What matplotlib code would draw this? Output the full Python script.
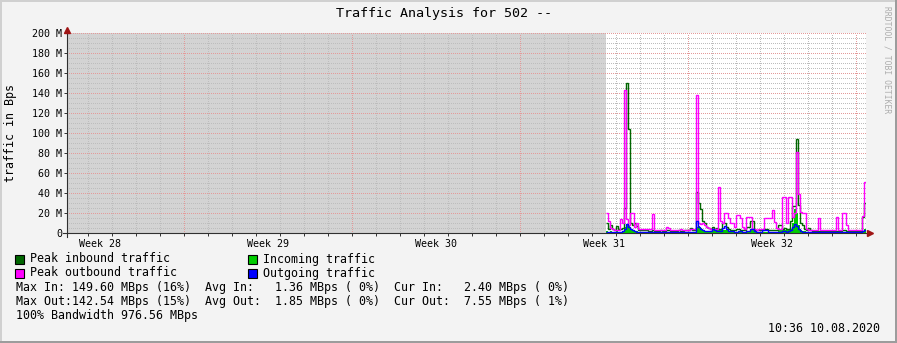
import matplotlib
matplotlib.use("Agg")
import matplotlib.pyplot as plt
from matplotlib.patches import Rectangle
import numpy as np

# --- Canvas -------------------------------------------------------------
W, H, DPI = 897, 343, 100
FONT = "DejaVu Sans Mono"

# x axis is in hours from the left edge of the graph; 1 px ~ 1 hour
X_END = 799
DATA_START = 539          # first sample; everything before is "unknown"
STEP = 2                  # hours per consolidated sample
FIRST_DAY_LINE = 21
FIRST_WEEK_LINE = 117

# --- Data (MBps, one value per 2 h sample) -------------------------------
peak_in = [
    10, 4, 8, 4, 3, 7, 4, 4, 5, 25,
    150, 104, 10, 8, 10, 7, 3, 3, 3, 3,
    3, 2, 2, 3, 2, 2, 2, 3, 2, 2,
    3, 3, 2, 2, 2, 2, 3, 2, 2, 3,
    3, 3, 5, 3, 3, 41, 30, 24, 12, 10,
    6, 5, 4, 6, 4, 5, 4, 4, 10, 10,
    6, 4, 3, 3, 3, 4, 4, 3, 3, 3,
    6, 6, 12, 12, 3, 3, 3, 3, 3, 4,
    4, 3, 3, 3, 3, 3, 8, 8, 4, 5,
    4, 4, 12, 27, 27, 94, 28, 10, 8, 4,
    3, 5, 3, 2, 2, 2, 2, 2, 2, 2,
    2, 2, 2, 2, 2, 2, 2, 2, 3, 3,
    2, 2, 2, 2, 2, 2, 2, 2, 16, 30,
]
incoming = [
    2, 1, 2, 1, 1, 2, 1, 1, 2, 6,
    9, 8, 4, 3, 2, 2, 1, 1, 1, 1,
    1, 1, 1, 1, 1, 1, 1, 1, 1, 1,
    1, 1, 1, 1, 1, 1, 1, 1, 1, 1,
    1, 1, 1, 1, 1, 6, 7, 5, 3, 2,
    2, 2, 2, 3, 3, 3, 3, 3, 3, 3,
    3, 2, 2, 2, 1, 1, 1, 1, 1, 1,
    2, 2, 3, 3, 2, 1, 1, 1, 1, 1,
    1, 1, 1, 1, 1, 1, 3, 3, 3, 3,
    3, 3, 4, 10, 24, 20, 8, 3, 2, 2,
    1, 1, 1, 1, 1, 1, 1, 1, 1, 1,
    1, 1, 1, 1, 1, 1, 1, 1, 1, 1,
    1, 1, 1, 1, 1, 1, 1, 1, 2, 4,
]
peak_out = [
    20, 12, 5, 4, 3, 3, 3, 14, 10, 143,
    14, 8, 20, 20, 6, 10, 4, 4, 4, 4,
    4, 4, 4, 19, 3, 3, 3, 3, 3, 3,
    6, 5, 3, 3, 3, 3, 3, 4, 3, 3,
    3, 3, 4, 4, 4, 138, 10, 9, 10, 8,
    6, 5, 4, 4, 4, 4, 46, 12, 10, 20,
    20, 15, 10, 10, 6, 18, 18, 15, 6, 4,
    16, 16, 16, 4, 4, 3, 4, 4, 4, 15,
    15, 15, 15, 23, 11, 5, 4, 4, 36, 36,
    10, 36, 36, 16, 20, 81, 39, 21, 20, 20,
    4, 3, 3, 3, 3, 3, 15, 3, 3, 3,
    3, 3, 3, 3, 3, 16, 3, 3, 20, 20,
    8, 3, 3, 3, 3, 3, 3, 3, 17, 51,
]
outgoing = [
    1, 1, 1, 1, 1, 1, 1, 1, 2, 4,
    9, 6, 4, 3, 2, 1, 1, 1, 1, 1,
    1, 1, 1, 1, 1, 1, 1, 1, 1, 1,
    1, 1, 1, 1, 1, 1, 1, 1, 1, 1,
    1, 1, 1, 1, 1, 12, 6, 4, 3, 2,
    2, 2, 2, 4, 3, 2, 2, 2, 5, 7,
    4, 2, 2, 2, 1, 1, 2, 2, 1, 1,
    2, 2, 4, 4, 2, 1, 1, 1, 3, 3,
    3, 1, 1, 1, 1, 1, 1, 1, 2, 2,
    1, 2, 3, 6, 9, 7, 4, 2, 1, 1,
    1, 1, 1, 1, 1, 1, 1, 1, 1, 1,
    1, 1, 1, 1, 1, 1, 1, 1, 1, 1,
    1, 1, 1, 1, 1, 1, 1, 1, 2, 3,
]

y_ticks = [0, 20, 40, 60, 80, 100, 120, 140, 160, 180, 200]
y_tick_labels = ["0"] + [f"{v} M" for v in y_ticks[1:]]
week_labels = ["Week 28", "Week 29", "Week 30", "Week 31", "Week 32"]

legend_items = [
    ("Peak inbound traffic", "#006600"),
    ("Incoming traffic", "#00CC00"),
    ("Peak outbound traffic", "#FF00FF"),
    ("Outgoing traffic", "#0000FF"),
]
stats_lines = [
    "Max In: 149.60 MBps (16%)  Avg In:   1.36 MBps ( 0%)  Cur In:   2.40 MBps ( 0%)",
    "Max Out:142.54 MBps (15%)  Avg Out:  1.85 MBps ( 0%)  Cur Out:  7.55 MBps ( 1%)",
    "100% Bandwidth 976.56 MBps",
]
title = "Traffic Analysis for 502 --"
timestamp = "10:36 10.08.2020"
watermark = "RRDTOOL / TOBI OETIKER"


def fx(px):
    return px / W


def fy(py):
    return 1 - py / H


fig = plt.figure(figsize=(W / DPI, H / DPI), dpi=DPI, facecolor="#F3F3F3")

# 3D-ish frame around the image
for x0, y0, w, h, c in [
    (0, 0, W, 2, "#D0D0D0"), (0, 0, 2, H, "#D0D0D0"),
    (0, H - 2, W, 2, "#9C9C9C"), (W - 2, 0, 2, H, "#9C9C9C"),
]:
    fig.patches.append(Rectangle((fx(x0), fy(y0 + h)), w / W, h / H,
                                 transform=fig.transFigure, color=c, lw=0))

ax = fig.add_axes([fx(67), fy(233), 799 / W, 200 / H])
ax.set_facecolor("white")
ax.set_xlim(0, X_END)
ax.set_ylim(0, 200)
for s in ax.spines.values():
    s.set_visible(False)

# unknown (no data) region
ax.axvspan(0, DATA_START, color="#D3D3D3", lw=0, zorder=0)

# grid: 1px dots, no antialiasing so they stay crisp
grid_kw = dict(lw=0.72, ls=(0, (1, 2)), antialiased=False)
for d in range(FIRST_DAY_LINE, X_END, 24):
    ax.axvline(d, color="#BDBDBD", zorder=1, **grid_kw)
for v in range(5, 201, 5):
    if v % 20:
        ax.axhline(v, color="#BDBDBD", zorder=1, **grid_kw)
for w in range(FIRST_WEEK_LINE, X_END, 168):
    ax.axvline(w, color="#E49A9A", zorder=1.1, **grid_kw)
for v in y_ticks[1:]:
    ax.axhline(v, color="#E49A9A", zorder=1.1, **grid_kw)

# series
edges = np.arange(len(peak_in) + 1) * STEP + DATA_START
ax.stairs(incoming, edges, fill=True, color="#00CC00", lw=0, zorder=2)
ax.stairs(peak_in, edges, baseline=None, color="#006600", lw=1.0, zorder=3)
ax.stairs(peak_out, edges, baseline=None, color="#FF00FF", lw=1.0, zorder=4)
ax.stairs(outgoing, edges, baseline=None, color="#0000FF", lw=1.0, zorder=5)

# axes with arrows
ax.plot([-4, X_END + 4], [0, 0], color="#303030", lw=0.8, clip_on=False, zorder=6)
ax.plot([0, 0], [-4, 203], color="#303030", lw=0.8, clip_on=False, zorder=6)
ax.plot([X_END + 4], [0], marker=">", ms=4.5, color="#A01515", clip_on=False, zorder=7)
ax.plot([0], [203], marker="^", ms=4.5, color="#A01515", clip_on=False, zorder=7)

# ticks
ax.set_yticks(y_ticks, y_tick_labels, fontfamily=FONT, fontsize=7.2)
ax.tick_params(axis="y", length=2.5, width=0.7, color="#303030", pad=1.0)
label_hours = [w - 84 for w in range(FIRST_WEEK_LINE, X_END + 84, 168)]
ax.set_xticks(label_hours, week_labels, fontfamily=FONT, fontsize=7.2)
ax.set_xticks(list(range(FIRST_DAY_LINE, X_END, 24)), minor=True)
ax.tick_params(axis="x", which="major", length=0, pad=4)
ax.tick_params(axis="x", which="minor", length=2, width=0.7, color="#303030")

# y label, title, watermark, timestamp
fig.text(fx(11), fy(133), "traffic in Bps", family=FONT, fontsize=8.4,
         rotation=90, ha="center", va="center")
fig.text(fx(444), fy(14), title, family=FONT, fontsize=9.6, ha="center", va="center")
fig.text(fx(887), fy(60), watermark, family=FONT, fontsize=5.8, color="#ADADAD",
         rotation=-90, ha="center", va="center")
fig.text(fx(880), fy(329), timestamp, family=FONT, fontsize=8.4, ha="right", va="center")

# legend
legend_pos = [(15, 259), (248, 259), (15, 273), (248, 273)]
for (label, color), (lx, ly) in zip(legend_items, legend_pos):
    fig.patches.append(Rectangle((fx(lx), fy(ly + 4.5)), 9 / W, 9 / H,
                                 transform=fig.transFigure, facecolor=color,
                                 edgecolor="black", lw=0.8))
    fig.text(fx(lx + 15), fy(ly), label, family=FONT, fontsize=8.4, va="center")

for k, line in enumerate(stats_lines):
    fig.text(fx(16), fy(287 + 14 * k), line, family=FONT, fontsize=8.4, va="center")

fig.savefig("out.png", dpi=DPI, facecolor=fig.get_facecolor())
